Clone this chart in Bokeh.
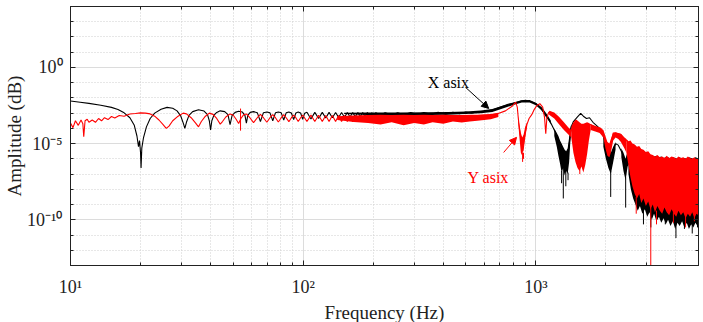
import numpy as np
from bokeh.plotting import figure
from bokeh.models import (FixedTicker, CustomJSTickFormatter, LogAxis, Arrow,
                          NormalHead, Label, Range1d, Title)
from bokeh.embed import file_html
from bokeh.resources import INLINE

# ---- axis ticks -------------------------------------------------------
x_major = [10, 100, 1000]
x_minor = [20, 30, 40, 50, 60, 70, 80, 90,
           200, 300, 400, 500, 600, 700, 800, 900,
           2000, 3000, 4000, 5000]
y_major = [1e-10, 1e-5, 1.0]
y_minor = [10.0 ** k for k in range(-13, 5)]
x_title = "Frequency (Hz)"
y_title = "Amplitude (dB)"

# ---- X axis response: (frequency Hz, log10 amplitude) ----------------
x_low = [(10, -2.20), (11, -2.28), (12, -2.36), (13.5, -2.48), (15, -2.62),
         (16, -2.76), (17, -2.98), (18, -3.3), (18.8, -3.8), (19.3, -4.5),
         (19.6, -5.2), (19.8, -4.8), (20.0, -5.6), (20.1, -6.6), (20.25, -5.3),
         (20.6, -4.6), (21.2, -3.9), (22, -3.35), (23, -3.0), (24.5, -2.75),
         (26, -2.62), (27.5, -2.68), (28.7, -2.85), (29.8, -3.2), (30.6, -3.7),
         (31, -4.0), (31.5, -3.6), (32.3, -3.15), (33.5, -2.9), (35.5, -2.78),
         (37.5, -2.86), (38.8, -3.1), (39.5, -3.5), (40, -4.1), (40.5, -3.5),
         (41.3, -3.15), (42.5, -2.95), (44, -2.85), (46, -2.9), (47.5, -3.1),
         (48.5, -3.75), (49.5, -3.15), (51, -2.95), (52.8, -2.88), (54.8, -2.93),
         (56.2, -3.15), (57, -3.65), (57.8, -3.15), (59.2, -2.95), (61.2, -2.9),
         (63.5, -2.97), (65.5, -3.55), (67.5, -2.97), (69.8, -2.92), (72, -2.98),
         (74, -3.5), (76, -2.98), (78.2, -2.92), (80.5, -2.98), (82.5, -3.45),
         (84.5, -2.98), (86.8, -2.93), (89, -2.99), (91, -3.42), (93, -2.99),
         (95.2, -2.93), (97.5, -2.99), (99.5, -3.4), (101.5, -3.0), (103.8, -2.94),
         (108, -3.38), (112.2, -2.95), (116.5, -3.35), (120.8, -2.95), (125, -3.32),
         (129.2, -2.95), (133.5, -3.3), (137.8, -2.96), (142, -3.28), (146.2, -2.96),
         (150.5, -3.27), (154.8, -2.96), (159, -3.25), (163.2, -2.96), (167.5, -3.24),
         (171.8, -2.96), (176, -3.23), (180.2, -2.96), (184.5, -3.22), (188.8, -2.96),
         (193, -3.2), (197.2, -2.97), (201, -3.2)]
x_mid = [(205, -2.98), (215, -3.12), (225, -2.97), (240, -3.1), (255, -2.97),
         (270, -3.1), (290, -2.96), (310, -3.09), (330, -2.96), (355, -3.08),
         (380, -2.95), (410, -3.07), (440, -2.94), (470, -3.04), (500, -2.92),
         (530, -3.0), (560, -2.9), (590, -2.92), (620, -2.84), (650, -2.8),
         (706, -2.6), (760, -2.42), (820, -2.3), (861, -2.2), (904, -2.16),
         (950, -2.24), (1000, -2.38), (1050, -2.68), (1100, -3.15), (1160, -3.65),
         (1217, -4.3), (1260, -4.85), (1300, -5.4), (1340, -5.8), (1375, -5.6),
         (1400, -4.7), (1420, -3.9), (1450, -3.55), (1500, -3.3), (1558, -3.02),
         (1600, -3.2), (1650, -3.35), (1700, -3.3), (1760, -3.6), (1850, -3.9),
         (1900, -4.15), (1960, -4.6), (2000, -5.1), (2050, -5.6), (2097, -6.0),
         (2150, -5.4), (2203, -5.0), (2260, -5.1), (2330, -5.5), (2400, -6.0),
         (2432, -6.4), (2480, -5.7), (2550, -5.5)]

# noisy spreads of the X trace: (Hz, upper log10, lower log10)
x_spread = [
    [(150, -2.97, -3.06), (190, -2.96, -3.12), (260, -2.95, -3.13), (340, -2.94, -3.12),
     (420, -2.93, -3.1), (500, -2.89, -3.06), (580, -2.83, -3.0), (650, -2.73, -2.92),
     (720, -2.52, -2.7), (800, -2.31, -2.46), (870, -2.15, -2.3), (940, -2.14, -2.3),
     (1000, -2.31, -2.48), (1060, -2.62, -2.82), (1120, -3.1, -3.32), (1160, -3.5, -3.75)],
    [(1200, -4.0, -4.5), (1230, -4.3, -5.2), (1250, -4.5, -5.8), (1270, -4.8, -6.3),
     (1290, -5.0, -6.9), (1310, -5.2, -6.6), (1330, -5.4, -7.1), (1350, -5.5, -6.8),
     (1370, -5.3, -7.0), (1390, -4.6, -6.2), (1405, -4.0, -5.0), (1420, -3.7, -4.0)],
    [(1950, -4.5, -5.2), (2000, -4.9, -6.0), (2050, -5.3, -6.6), (2100, -5.6, -7.0),
     (2150, -5.2, -6.2), (2200, -4.9, -5.4)],
    [(2330, -5.3, -5.9), (2380, -5.6, -6.8), (2430, -6.0, -7.4), (2480, -5.5, -6.5),
     (2520, -5.3, -6.3)],
    [(2500, -5.3, -7.0), (2560, -5.35, -8.0), (2620, -5.4, -8.6), (2680, -5.5, -9.0),
     (2740, -5.45, -9.4), (2800, -5.6, -9.1), (2870, -5.55, -9.6), (2940, -5.7, -9.3),
     (3010, -5.65, -9.8), (3080, -5.8, -9.5), (3150, -5.75, -10.0), (3220, -5.85, -9.6),
     (3300, -5.8, -10.1), (3380, -5.9, -9.8), (3460, -5.85, -10.2), (3540, -5.95, -9.9),
     (3620, -5.9, -10.3), (3700, -5.9, -10.0), (3790, -6.0, -10.4), (3880, -5.9, -10.1),
     (3970, -5.95, -10.6), (4060, -6.0, -10.2), (4150, -5.9, -10.4), (4250, -6.0, -10.1),
     (4350, -5.95, -10.5), (4450, -6.0, -10.2), (4550, -5.9, -10.6), (4650, -5.95, -10.3),
     (4750, -6.0, -10.5), (4850, -5.9, -10.2), (4950, -5.95, -10.4), (5000, -6.0, -10.3)],
]
# isolated deep dips of the X trace: (Hz, top log10, bottom log10)
x_spikes = [(1290, -6.8, -7.6), (1312, -6.5, -8.6), (1345, -6.8, -7.8), (1375, -6.9, -7.4),
            (2097, -6.8, -8.5), (2432, -7.2, -9.2), (2900, -9.2, -10.3), (3120, -9.6, -10.5),
            (3600, -9.9, -10.3), (4000, -10.0, -11.2), (4350, -10.2, -10.6),
            (4700, -10.2, -10.9), (4950, -10.2, -10.5)]

# ---- Y axis response: (frequency Hz, log10 amplitude) ----------------
y_low = [(10, -3.65), (10.25, -3.95), (10.5, -3.5), (10.8, -3.8), (11.1, -3.45),
         (11.3, -3.7), (11.4, -4.55), (11.55, -3.5), (11.8, -3.4), (12.0, -3.6),
         (12.4, -3.45), (12.8, -3.6), (13.2, -3.35), (13.6, -3.5), (14.0, -3.3),
         (14.5, -3.42), (15.0, -3.22), (15.5, -3.32), (16.2, -3.15), (17, -3.2),
         (18, -3.06), (19, -3.02), (20, -2.98), (21, -3.0), (22, -3.05), (23, -3.2),
         (24, -3.45), (25, -3.75), (25.8, -4.0), (26.5, -3.85), (27.5, -3.5),
         (29, -3.2), (30.5, -3.0), (31.5, -3.05), (33, -3.3), (34.5, -3.65),
         (35.5, -3.9), (36.5, -3.55), (38, -3.2), (39.5, -3.0), (41, -3.08),
         (42.5, -3.35), (44, -3.72), (45, -3.55), (46.5, -3.25), (48.5, -3.05),
         (50, -3.12), (51.5, -3.4), (52.8, -3.68), (54, -3.35), (55.5, -3.1),
         (57, -3.05), (59, -3.3), (61.2, -3.62), (63.5, -3.3), (65.5, -3.08),
         (67.5, -3.3), (69.8, -3.6), (72, -3.3), (74, -3.1), (76, -3.3),
         (78.2, -3.58), (80.5, -3.3), (82.5, -3.1), (84.5, -3.3), (86.8, -3.56),
         (89, -3.3), (91, -3.12), (93, -3.3), (95.2, -3.55), (97.5, -3.3),
         (99.5, -3.12), (103.8, -3.55), (108, -3.13), (112.2, -3.55), (116.5, -3.14),
         (120.8, -3.55), (125, -3.15), (129.2, -3.55), (133.5, -3.15), (137.8, -3.55),
         (142, -3.16), (146.2, -3.55), (150.5, -3.16), (154.8, -3.55), (159, -3.17),
         (163.2, -3.56), (167.5, -3.17), (171.8, -3.56), (176, -3.17), (180.2, -3.56),
         (184.5, -3.18), (188.8, -3.56), (193, -3.18), (197.2, -3.56)]
y_mid = [(200, -3.3), (250, -3.4), (300, -3.35), (350, -3.4), (400, -3.35),
         (450, -3.35), (500, -3.3), (560, -3.28), (620, -3.2), (680, -3.05),
         (740, -2.85), (790, -2.55), (819, -2.28), (832, -2.6), (840, -3.3),
         (850, -4.0), (862, -4.7), (872, -5.3), (880, -5.5), (890, -4.9),
         (902, -4.3), (915, -3.75), (935, -3.35), (960, -3.1), (985, -2.75),
         (1010, -2.5), (1040, -2.38), (1070, -2.6), (1090, -3.3), (1103, -4.35),
         (1115, -3.3), (1135, -2.95), (1160, -2.93), (1217, -3.2), (1280, -3.55),
         (1343, -3.9), (1412, -4.2), (1450, -3.8), (1490, -3.45), (1520, -3.6),
         (1560, -4.0), (1600, -3.8), (1650, -3.7), (1720, -3.75), (1800, -3.9),
         (1900, -4.0), (1950, -4.3), (2000, -5.0), (2050, -5.5), (2097, -5.0),
         (2150, -4.3), (2200, -4.3), (2315, -4.4), (2432, -4.75), (2500, -4.9)]

# noisy spreads of the Y trace: (Hz, upper log10, lower log10)
y_spread = [
    [(140, -3.2, -3.45), (165, -3.15, -3.58), (190, -3.12, -3.65), (215, -3.1, -3.75),
     (240, -3.12, -3.6), (270, -3.1, -3.8), (300, -3.12, -3.65), (330, -3.1, -3.75),
     (360, -3.12, -3.6), (400, -3.1, -3.7), (440, -3.12, -3.55), (480, -3.12, -3.62),
     (520, -3.1, -3.55), (560, -3.1, -3.5), (600, -3.08, -3.45), (640, -3.05, -3.4),
     (690, -2.98, -3.25)],
    [(838, -3.2, -3.5), (850, -3.8, -4.6), (862, -4.3, -5.6), (874, -4.6, -5.8),
     (886, -4.4, -5.2), (900, -3.9, -4.5), (915, -3.6, -3.9)],
    [(1140, -2.85, -3.1), (1200, -2.95, -3.35), (1260, -3.25, -3.75), (1320, -3.6, -4.1),
     (1380, -3.95, -4.4), (1420, -4.1, -4.6)],
    [(1420, -3.9, -4.6), (1450, -3.6, -5.6), (1480, -3.45, -6.2), (1510, -3.5, -6.6),
     (1540, -3.6, -6.8), (1570, -3.7, -6.5), (1600, -3.7, -6.9), (1630, -3.65, -6.4),
     (1660, -3.6, -5.7), (1690, -3.65, -4.8), (1720, -3.75, -4.1)],
    [(1720, -3.75, -4.1), (1800, -3.85, -4.2), (1880, -3.95, -4.3), (1950, -4.1, -4.6),
     (1990, -4.5, -5.3), (2030, -4.9, -5.8), (2070, -5.0, -5.9), (2100, -4.7, -5.6),
     (2150, -4.3, -4.8), (2200, -4.25, -4.6), (2260, -4.3, -4.7), (2320, -4.35, -4.9),
     (2400, -4.6, -5.3), (2450, -4.7, -5.6)],
    [(2450, -4.7, -5.6), (2500, -4.85, -6.4), (2550, -4.8, -7.2), (2600, -5.0, -7.8),
     (2660, -5.05, -8.3), (2720, -5.2, -8.6), (2780, -5.15, -8.3), (2840, -5.35, -8.9),
     (2900, -5.4, -8.6), (2970, -5.55, -9.1), (3040, -5.5, -8.8), (3110, -5.7, -9.3),
     (3180, -5.75, -9.0), (3250, -5.85, -9.5), (3330, -5.75, -9.1), (3410, -5.9, -9.4),
     (3490, -5.85, -9.6), (3570, -5.95, -9.2), (3650, -5.8, -9.5), (3740, -5.95, -9.7),
     (3830, -5.85, -9.3), (3920, -5.9, -9.6), (4010, -6.0, -9.8), (4100, -5.85, -9.4),
     (4200, -5.95, -9.7), (4300, -5.9, -9.5), (4400, -6.0, -9.9), (4500, -5.85, -9.6),
     (4600, -5.95, -9.8), (4700, -6.0, -9.5), (4800, -5.9, -9.9), (4900, -6.0, -9.6),
     (5000, -5.95, -9.7)],
]
y_spikes = [(53.8, -2.7, -4.15), (877, -5.6, -6.2), (885, -5.6, -6.0),
            (1545, -6.5, -7.0), (2700, -8.5, -9.6), (3118, -9.2, -13.2), (3300, -9.4, -10.3),
            (3900, -9.5, -10.2), (4400, -9.8, -10.5), (4800, -9.8, -10.1)]

BLACK = "#000000"
RED = "#ff0000"
SERIF = "Liberation Serif"
INK = "#222222"

p = figure(width=703, height=322, x_axis_type="log", y_axis_type="log",
           x_range=Range1d(10, 5000), y_range=Range1d(1e-13, 1e4),
           output_backend="svg", toolbar_location=None,
           min_border_left=70, min_border_right=5, min_border_top=6,
           min_border_bottom=57, background_fill_color="white",
           border_fill_color="white", outline_line_color=INK)


def draw(line_pts, spreads, spikes, color):
    f = [pt[0] for pt in line_pts]
    a = [10.0 ** pt[1] for pt in line_pts]
    for band in spreads:
        p.varea(x=[b[0] for b in band],
                y1=[10.0 ** b[1] for b in band],
                y2=[10.0 ** b[2] for b in band],
                fill_color=color, fill_alpha=1.0)
    p.line(f, a, line_color=color, line_width=1.1)
    p.segment(x0=[s[0] for s in spikes], x1=[s[0] for s in spikes],
              y0=[10.0 ** s[1] for s in spikes], y1=[10.0 ** s[2] for s in spikes],
              line_color=color, line_width=1)


draw(x_low + x_mid, x_spread, x_spikes, BLACK)
draw(y_low + y_mid, y_spread, y_spikes, RED)

sup_code = """
const e = Math.round(Math.log10(tick));
const sup = {"-": "\u207b", "0": "\u2070", "1": "\u00b9", "2": "\u00b2", "3": "\u00b3",
             "4": "\u2074", "5": "\u2075", "6": "\u2076", "7": "\u2077", "8": "\u2078",
             "9": "\u2079"};
return "10" + String(e).split("").map(c => sup[c]).join("");
"""

xt = FixedTicker(ticks=x_major, minor_ticks=x_minor)
yt = FixedTicker(ticks=y_major, minor_ticks=y_minor)


def style_axis(ax, labels=True):
    ax.axis_line_color = INK
    ax.major_tick_in = 5
    ax.major_tick_out = 0
    ax.minor_tick_in = 3
    ax.minor_tick_out = 0
    ax.major_tick_line_color = INK
    ax.minor_tick_line_color = INK
    if labels:
        ax.formatter = CustomJSTickFormatter(code=sup_code)
        ax.major_label_text_font = SERIF
        ax.major_label_text_font_size = "18px"
        ax.major_label_text_color = INK
    else:
        ax.formatter = CustomJSTickFormatter(code="return ' ';")
        ax.major_label_text_font_size = "1px"
        ax.major_label_standoff = 0


p.xaxis.ticker = xt
p.yaxis.ticker = yt
style_axis(p.xaxis[0])
style_axis(p.yaxis[0])
p.xaxis.major_label_standoff = 11
p.yaxis.major_label_standoff = 8

top = LogAxis(ticker=xt)
right = LogAxis(ticker=yt)
style_axis(top, labels=False)
style_axis(right, labels=False)
p.add_layout(top, "above")
p.add_layout(right, "right")

for g in (p.xgrid[0], p.ygrid[0]):
    g.grid_line_color = "#dcdcdc"
    g.grid_line_width = 1
    g.minor_grid_line_color = "#cfcfcf"
    g.minor_grid_line_dash = "1 2"
p.xgrid.ticker = xt
p.ygrid.ticker = yt

# axis titles in the outer side panels
p.add_layout(Title(text=x_title, align="center", text_font=SERIF,
                   text_font_size="19px", text_font_style="normal",
                   text_color=INK, standoff=0, offset=0), "below")
p.add_layout(Title(text=y_title, align="center", text_font=SERIF,
                   text_font_size="19px", text_font_style="normal",
                   text_color=INK, standoff=0, offset=0), "left")

# callouts naming the two traces
p.add_layout(Label(x=343, y=10 ** -0.98, text="X asix", text_font=SERIF,
                   text_font_size="16px", text_color=BLACK,
                   text_baseline="middle", text_align="left"))
p.add_layout(Arrow(x_start=499, y_start=10 ** -1.31, x_end=627, y_end=10 ** -2.69,
                   line_color=BLACK, line_width=1,
                   end=NormalHead(size=7, fill_color=BLACK, line_color=BLACK)))
p.add_layout(Label(x=509, y=10 ** -7.22, text="Y asix", text_font=SERIF,
                   text_font_size="16px", text_color=RED,
                   text_baseline="middle", text_align="left"))
p.add_layout(Arrow(x_start=727, y_start=10 ** -5.58, x_end=826, y_end=10 ** -4.59,
                   line_color=RED, line_width=1,
                   end=NormalHead(size=7, fill_color=RED, line_color=RED)))

open("out.html", "w").write(file_html(p, INLINE))
